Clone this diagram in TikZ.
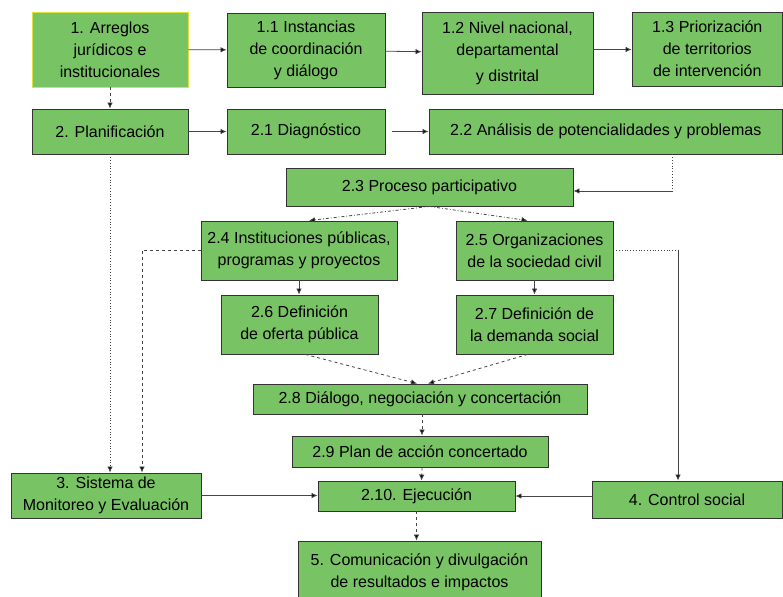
\documentclass[tikz,border=0pt]{standalone}
\usepackage{fontspec}
\setmainfont{Liberation Sans}
\usetikzlibrary{arrows.meta,calc}
\definecolor{boxgreen}{RGB}{120,195,100}
\definecolor{edgegray}{RGB}{70,70,70}
\definecolor{yelloworder}{RGB}{220,225,60}
\tikzset{
  box/.style={draw=black!80, line width=0.9pt, fill=boxgreen, inner sep=0pt, align=center,
    font=\fontsize{16}{22}\selectfont},
  con/.style={draw=edgegray, line width=0.8pt},
  tip/.style={-{Latex[length=6pt,width=5.5pt,fill=black]}},
}
\newcommand\bx[7][]{\node[box,#1,minimum width={#5-#3},minimum height={#6-#4}] (#2) at ({(#3+#5)/2},{(#4+#6)/2}) {#7};}
\begin{document}
\begin{tikzpicture}[x=1pt,y=-1pt]
\useasboundingbox (0,0) rectangle (783,596);
\fill[white] (0,0) rectangle (783,596);
% boxes
\bx[draw=yelloworder]{n1}{32}{12}{188}{87}{1. Arreglos\\jurídicos e\\institucionales}
\bx{n11}{227}{13}{385}{87}{1.1 Instancias\\de coordinación\\y diálogo}
\bx{n12}{422}{12}{593}{94}{1.2 Nivel nacional,\\departamental\\[4pt]y distrital}
\bx{n13}{632}{12}{782.5}{86}{1.3 Priorización\\de territorios\\de intervención}
\bx{n2}{32}{109}{188}{154}{2. Planificación}
\bx{n21}{227}{109}{385}{154}{2.1 Diagnóstico}
\bx{n22}{429}{109}{782.5}{154}{2.2 Análisis de potencialidades y problemas}
\bx{n23}{286}{168}{573}{206}{2.3 Proceso participativo}
\bx{n24}{201}{221}{397}{280}{2.4 Instituciones públicas,\\programas y proyectos}
\bx{n25}{456}{221}{613}{280}{2.5 Organizaciones\\de la sociedad civil}
\bx{n26}{221}{295}{378}{354}{2.6 Definición\\de oferta pública}
\bx{n27}{456}{295}{613}{354}{2.7 Definición de\\la demanda social}
\bx{n28}{253}{384}{587}{414}{2.8 Diálogo, negociación y concertación}
\bx{n29}{292}{436}{548}{467}{2.9 Plan de acción concertado}
\bx{n210}{318}{481}{515}{511}{2.10. Ejecución}
\bx{n3}{11}{473}{201}{518}{3. Sistema de\\Monitoreo y Evaluación}
\bx{n4}{592}{481}{782}{518}{4. Control social}
\bx{n5}{298}{541}{541}{604}{5. Comunicación y divulgación\\de resultados e impactos}
% helper coordinates
\coordinate (kA) at (672,0);
\coordinate (kB) at (678,0);
\coordinate (kC) at (142,0);
% connectors
\draw[con,tip] (n1) -- (n11);
\draw[con,tip] (n11) -- (n12);
\draw[con,tip] (n12.east |- n1.east) -- (n13.west |- n1.east);
\draw[con,tip,dashed] (n1.south) -- (n2.north);
\draw[con,tip] (n2) -- (n21);
\draw[con,tip] ($(n21.east)+(7,0)$) -- (n22.west);
\draw[con,dotted] (n22.south -| kA) -- ($(kA |- n23.east)+(0,4)$);
\draw[con,tip] ($(kA |- n23.east)+(0,4)$) -- ($(n23.east)+(0,4)$);
\draw[con,tip,dash dot] (n23.south) -- ($(n24.north)+(10,0)$);
\draw[con,tip,dash dot] (n23.south) -- ($(n25.north)+(-7,0)$);
\draw[con,tip] (n24.south) -- (n24.south |- n26.north);
\draw[con,tip] (n25.south) -- (n27.north);
\draw[con,tip,dashed] ($(n26.south)+(6,0)$) -- ($(n28.north)+(-3,0)$);
\draw[con,tip,dashed] ($(n27.south)+(-7,0)$) -- ($(n28.north)+(8,0)$);
\draw[con,tip,dashed] ($(n28.south)+(2,0)$) -- ($(n29.north)+(2,0)$);
\draw[con,tip,dashed] ($(n29.south)+(2,0)$) -- ($(n210.north)+(5,0)$);
\draw[con,tip,dashed] (n210.south) -- (n210.south |- n5.north);
\draw[con,tip,dotted] (n2.south) -- (n2.south |- n3.north);
\draw[con,dashed] (n24.west) -- (kC |- n24.west);
\draw[con,tip,dashed] (kC |- n24.west) -- (kC |- n3.north);
\draw[con,tip] (n3.east) -- (n3.east -| n210.west);
\draw[con,dotted] (n25.east) -- (kB |- n25.east);
\draw[con,tip] (kB |- n25.east) -- (kB |- n4.north);
\draw[con,tip] (n4.west |- n210.east) -- (n210.east);
\end{tikzpicture}
\end{document}
